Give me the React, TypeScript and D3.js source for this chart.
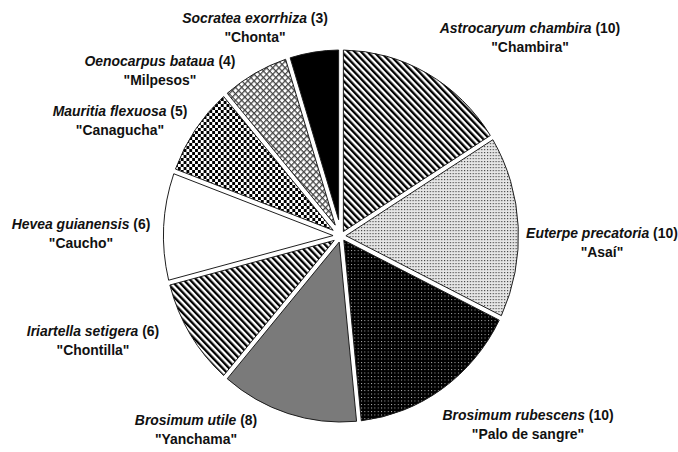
import React, { useEffect, useRef } from 'react';
import * as d3 from 'd3';

// palm / tree species and number of mentions
const species = [
  'Astrocaryum chambira',
  'Euterpe precatoria',
  'Brosimum rubescens',
  'Brosimum utile',
  'Iriartella setigera',
  'Hevea guianensis',
  'Mauritia flexuosa',
  'Oenocarpus bataua',
  'Socratea exorrhiza',
];
const commonNames = ['Chambira', 'Asaí', 'Palo de sangre', 'Yanchama', 'Chontilla', 'Caucho', 'Canagucha', 'Milpesos', 'Chonta'];
const counts = [10, 10, 10, 8, 6, 6, 5, 4, 3];

// fills per slice (pattern ids or colours)
const fills = ['url(#stripeA)', 'url(#dotsLight)', 'url(#dotsDark)', '#7a7a7a', 'url(#stripeB)', '#ffffff', 'url(#checker)', 'url(#lattice)', '#000000'];

// label anchor (centre x, first line middle y)
const labelPos: [number, number][] = [
  [530, 28], [602, 233], [528, 415], [196, 420], [93, 331], [81, 224], [120, 111], [160, 61], [255, 18],
];

const W = 678;
const H = 452;

const App = () => {
  const svgRef = useRef<SVGSVGElement | null>(null);

  useEffect(() => {
    const svg = d3.select(svgRef.current);
    svg.selectAll('*').remove();

    const R = 186;
    const gap = 5;
    const cx = 341;
    const cy = 236;
    const sx = 0.954; // picture is a bit squeezed horizontally

    const defs = svg.append('defs');

    // diagonal stripes "\"
    ['stripeA', 'stripeB'].forEach(id => {
      const p = defs.append('pattern')
        .attr('id', id)
        .attr('patternUnits', 'userSpaceOnUse')
        .attr('width', 4.8)
        .attr('height', 10)
        .attr('patternTransform', 'rotate(-45)');
      p.append('rect').attr('width', 4.8).attr('height', 10).attr('fill', '#fff');
      p.append('rect').attr('width', 2.4).attr('height', 10).attr('fill', '#000');
    });

    const dl = defs.append('pattern')
      .attr('id', 'dotsLight')
      .attr('patternUnits', 'userSpaceOnUse')
      .attr('width', 3).attr('height', 3);
    dl.append('rect').attr('width', 3).attr('height', 3).attr('fill', '#e6e6e6');
    dl.append('rect').attr('width', 1.2).attr('height', 1.2).attr('fill', '#444');

    const dd = defs.append('pattern')
      .attr('id', 'dotsDark')
      .attr('patternUnits', 'userSpaceOnUse')
      .attr('width', 3.5).attr('height', 3.5);
    dd.append('rect').attr('width', 3.5).attr('height', 3.5).attr('fill', '#000');
    dd.append('rect').attr('width', 1).attr('height', 1).attr('fill', '#bbb');

    const ch = defs.append('pattern')
      .attr('id', 'checker')
      .attr('patternUnits', 'userSpaceOnUse')
      .attr('width', 6).attr('height', 6);
    ch.append('rect').attr('width', 6).attr('height', 6).attr('fill', '#fff');
    ch.append('rect').attr('width', 3).attr('height', 3).attr('fill', '#000');
    ch.append('rect').attr('x', 3).attr('y', 3).attr('width', 3).attr('height', 3).attr('fill', '#000');

    const lt = defs.append('pattern')
      .attr('id', 'lattice')
      .attr('patternUnits', 'userSpaceOnUse')
      .attr('width', 4.6).attr('height', 4.6)
      .attr('patternTransform', 'rotate(45)');
    lt.append('rect').attr('width', 4.6).attr('height', 4.6).attr('fill', '#fff');
    lt.append('rect').attr('width', 4.6).attr('height', 1.3).attr('fill', '#444');
    lt.append('rect').attr('width', 1.3).attr('height', 4.6).attr('fill', '#444');

    const pie = d3.pie<number>().sort(null).value(d => d);
    const arcs = pie(counts);

    const arc = d3.arc<d3.PieArcDatum<number>>()
      .outerRadius(R)
      .innerRadius(d => (gap / 2) / Math.sin((d.endAngle - d.startAngle) / 2) * 1.001)
      .padRadius(R)
      .padAngle(2 * Math.asin(gap / 2 / R));

    const g = svg.append('g')
      .attr('transform', `translate(${cx}, ${cy}) scale(${sx}, 1)`);

    g.selectAll('path.slice')
      .data(arcs)
      .enter()
      .append('path')
      .attr('class', 'slice')
      .attr('d', d => arc(d) as string)
      .attr('fill', (d, i) => fills[i])
      .attr('stroke', '#1a1a1a')
      .attr('stroke-width', 1);

    const labels = svg.append('g')
      .attr('font-family', '"Liberation Sans", Arial, sans-serif')
      .attr('font-weight', 'bold')
      .attr('font-size', 15)
      .attr('fill', '#111')
      .attr('text-anchor', 'middle');

    species.forEach((name, i) => {
      const [lx, ly] = labelPos[i];
      const lab = labels.append('g')
        .attr('transform', `translate(${lx}, ${ly}) scale(0.93, 1)`);
      const t1 = lab.append('text').attr('x', 0).attr('y', 5);
      t1.append('tspan').attr('font-style', 'italic').text(name);
      t1.append('tspan').text(` (${counts[i]})`);
      lab.append('text')
        .attr('x', 0)
        .attr('y', 24)
        .text(`"${commonNames[i]}"`);
    });
  }, []);

  return (
    <svg
      ref={svgRef}
      width={W}
      height={H}
      style={{ position: 'absolute', left: 0, top: 0, background: '#fff' }}
    />
  );
};

export default App;
